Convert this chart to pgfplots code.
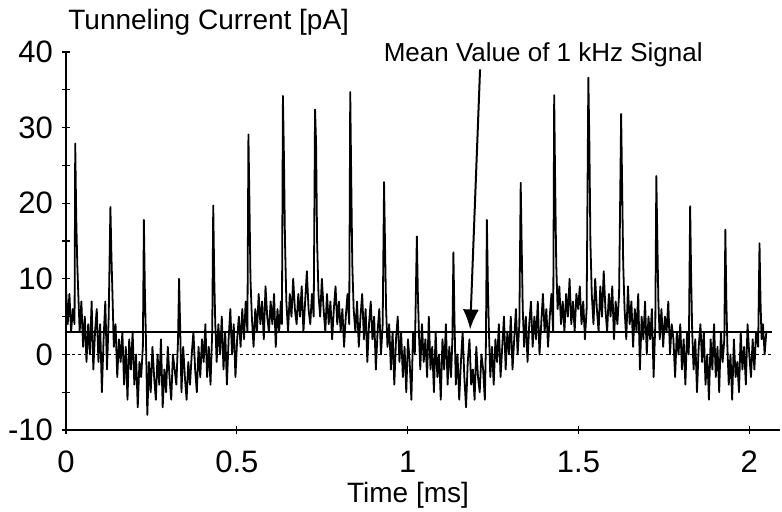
\documentclass[border=0pt]{standalone}
\usepackage{pgfplots}
\pgfplotsset{compat=1.18}
\usetikzlibrary{arrows.meta}
\usepackage{fontspec}
\setmainfont{Liberation Sans}
\begin{document}
\begin{tikzpicture}
\useasboundingbox (-33pt,-40.5pt) rectangle (358pt,215pt);
\begin{axis}[
 at={(0,0)}, anchor=south west,
 scale only axis, width=357pt, height=189pt,
 xmin=0, xmax=2.09, ymin=-10, ymax=40,
 axis lines=left, axis line style={-, line width=0.8pt},
 xtick={0,0.5,1,1.5,2}, xticklabels={0,0.5,1,1.5,2},
 ytick={-10,0,10,20,30,40}, yticklabels={-10,0,10,20,30,40},
 minor ytick={-5,5,15,25,35},
 tick align=center, major tick length=4pt, minor tick length=4pt,
 tick style={black, line width=0.6pt},
 ticklabel style={font=\fontsize{15.5}{18}\selectfont},
 xticklabel style={yshift=-5pt},
 yticklabel style={xshift=-1pt},
 /pgf/number format/assume math mode=true,
 clip=false,
]
\addplot[black, line width=0.9pt, line join=round] coordinates {
(0.000,9)(0.005,4)(0.010,8)(0.015,3)(0.020,6)(0.025,4)(0.027,27.9)(0.030,18)(0.033,12)(0.036,8)
(0.040,3)(0.045,7)(0.050,1)(0.055,5)(0.060,-1)(0.065,4)(0.070,0)(0.075,7)(0.080,-2)(0.085,3)
(0.090,6)(0.095,-1)(0.100,4)(0.105,-5)(0.110,2)(0.115,7)(0.120,-2)(0.125,5)(0.130,19.5)(0.133,13)
(0.136,8)(0.140,1)(0.145,4)(0.150,-3)(0.155,2)(0.160,-1)(0.165,3)(0.170,-4)(0.175,1)(0.180,-6)
(0.185,2)(0.190,-2)(0.195,3)(0.200,-4)(0.205,0)(0.210,-7)(0.215,-1)(0.220,-3)(0.225,1)(0.228,17.8)
(0.231,8)(0.234,2)(0.238,-8)(0.243,-1)(0.248,-5)(0.253,1)(0.258,-3)(0.263,-6)(0.268,0)(0.273,-4)
(0.278,2)(0.283,-7)(0.288,-2)(0.293,-5)(0.298,1)(0.303,-3)(0.308,-6)(0.313,0)(0.318,-2)(0.323,-4)
(0.328,2)(0.331,10)(0.334,4)(0.338,-5)(0.343,1)(0.348,-3)(0.353,-6)(0.358,-1)(0.363,-4)(0.368,0)
(0.373,3)(0.378,-2)(0.383,-5)(0.388,1)(0.393,-3)(0.398,2)(0.403,-1)(0.408,4)(0.413,-3)(0.418,1)
(0.423,-4)(0.428,3)(0.431,19.7)(0.434,10)(0.437,4)(0.441,-1)(0.446,4)(0.451,0)(0.456,5)(0.461,-2)
(0.466,3)(0.471,-4)(0.476,2)(0.481,6)(0.486,0)(0.491,4)(0.496,-3)(0.501,2)(0.506,5)(0.511,1)
(0.516,6)(0.521,2)(0.526,7)(0.531,3)(0.534,29.1)(0.537,20)(0.540,10)(0.544,5)(0.549,1)(0.554,6)
(0.559,3)(0.564,8)(0.569,4)(0.574,7)(0.579,2)(0.584,9)(0.589,5)(0.594,3)(0.599,7)(0.604,4)
(0.609,8)(0.614,1)(0.619,6)(0.624,3)(0.629,7)(0.632,4)(0.635,34.2)(0.638,26)(0.641,15)(0.645,7)
(0.650,3)(0.655,8)(0.660,5)(0.665,10)(0.670,6)(0.675,4)(0.680,8)(0.685,5)(0.690,9)(0.695,3)
(0.700,7)(0.705,11)(0.710,6)(0.715,4)(0.720,8)(0.725,5)(0.729,32.4)(0.732,28)(0.735,15)(0.739,8)
(0.744,5)(0.749,10)(0.754,6)(0.759,3)(0.764,8)(0.769,4)(0.774,7)(0.779,2)(0.784,6)(0.789,9)
(0.794,4)(0.799,7)(0.804,3)(0.809,6)(0.814,1)(0.819,5)(0.824,8)(0.829,4)(0.832,34.7)(0.835,23)
(0.838,12)(0.842,6)(0.847,3)(0.852,7)(0.857,1)(0.862,5)(0.867,8)(0.872,2)(0.877,6)(0.882,-1)
(0.887,4)(0.892,7)(0.897,2)(0.902,5)(0.907,-2)(0.912,3)(0.917,6)(0.922,0)(0.927,4)(0.931,22.8)
(0.934,14)(0.937,6)(0.941,1)(0.946,4)(0.951,-2)(0.956,3)(0.961,-4)(0.966,2)(0.971,5)(0.976,-1)
(0.981,3)(0.986,-3)(0.991,1)(0.996,-5)(1.001,2)(1.006,-1)(1.011,-6)(1.016,3)(1.021,0)(1.027,15.6)
(1.030,8)(1.033,3)(1.037,-2)(1.042,4)(1.047,-1)(1.052,2)(1.057,-3)(1.062,5)(1.067,-2)(1.072,1)
(1.077,-5)(1.082,3)(1.087,-3)(1.092,0)(1.097,-6)(1.102,2)(1.107,-2)(1.112,4)(1.117,-4)(1.122,1)
(1.127,-3)(1.131,2)(1.134,13.5)(1.137,5)(1.141,-4)(1.146,0)(1.151,-6)(1.156,-1)(1.161,3)(1.166,-3)
(1.171,-7)(1.176,-1)(1.181,2)(1.186,-4)(1.191,-2)(1.196,-6)(1.201,1)(1.206,-3)(1.211,-5)(1.216,0)
(1.221,-2)(1.226,-6)(1.229,1)(1.232,17.8)(1.235,9)(1.238,3)(1.242,-3)(1.247,1)(1.252,-4)(1.257,2)
(1.262,-1)(1.267,4)(1.272,-3)(1.277,1)(1.282,5)(1.287,-2)(1.292,3)(1.297,0)(1.302,5)(1.307,-2)
(1.312,2)(1.317,6)(1.322,0)(1.327,4)(1.331,22.7)(1.334,14)(1.337,6)(1.341,1)(1.346,5)(1.351,-1)
(1.356,4)(1.361,7)(1.366,1)(1.371,5)(1.376,2)(1.381,7)(1.386,0)(1.391,4)(1.396,8)(1.401,3)
(1.406,6)(1.411,1)(1.416,5)(1.421,8)(1.426,3)(1.429,34.3)(1.432,22)(1.435,12)(1.439,6)(1.444,9)
(1.449,4)(1.454,7)(1.459,3)(1.464,8)(1.469,5)(1.474,10)(1.479,4)(1.484,7)(1.489,3)(1.494,8)
(1.499,6)(1.504,9)(1.509,4)(1.514,7)(1.519,2)(1.524,6)(1.529,36.6)(1.532,28)(1.535,15)(1.539,8)
(1.544,4)(1.549,10)(1.554,6)(1.559,3)(1.564,9)(1.569,5)(1.574,11)(1.579,6)(1.584,3)(1.589,8)
(1.594,5)(1.599,9)(1.604,2)(1.609,7)(1.614,4)(1.619,8)(1.625,31.8)(1.628,22)(1.631,12)(1.635,6)
(1.640,2)(1.645,9)(1.650,4)(1.655,7)(1.660,1)(1.665,6)(1.670,3)(1.675,8)(1.680,-2)(1.685,5)
(1.690,2)(1.695,7)(1.700,0)(1.705,5)(1.710,2)(1.715,6)(1.720,-3)(1.725,4)(1.728,23.6)(1.731,15)
(1.734,7)(1.738,2)(1.743,6)(1.748,1)(1.753,5)(1.758,3)(1.763,7)(1.768,0)(1.773,4)(1.778,2)
(1.783,-3)(1.788,3)(1.793,0)(1.798,4)(1.803,-2)(1.808,2)(1.813,-4)(1.818,3)(1.823,0)(1.827,19.6)
(1.830,10)(1.833,3)(1.837,-2)(1.842,2)(1.847,-5)(1.852,1)(1.857,4)(1.862,-1)(1.867,3)(1.872,-4)
(1.877,0)(1.882,-6)(1.887,2)(1.892,-2)(1.897,4)(1.902,-3)(1.907,1)(1.912,-5)(1.917,3)(1.922,-1)
(1.927,2)(1.930,16.5)(1.933,7)(1.936,1)(1.940,-4)(1.945,0)(1.950,-6)(1.955,2)(1.960,-3)(1.965,-1)
(1.970,-5)(1.975,3)(1.980,-2)(1.985,1)(1.990,-4)(1.995,4)(2.000,0)(2.005,-3)(2.010,2)(2.015,-2)
(2.020,3)(2.026,1)(2.030,14.7)(2.033,7)(2.036,2)(2.040,4)(2.045,0)(2.050,3)
};
\addplot[black, line width=0.5pt, dash pattern=on 1.5pt off 1.5pt] coordinates {(0,0) (2.065,0)};
\addplot[black, line width=1pt] coordinates {(0,3) (2.067,3)};
\draw[line width=1pt, -{Latex[length=10pt,width=8pt]}] (axis cs:1.212,37.7) -- (axis cs:1.183,3.3);
\node[font=\fontsize{13}{16}\selectfont] at (axis cs:1.397,39.7) {Mean Value of 1 kHz Signal};
\end{axis}
\node[anchor=west, font=\fontsize{14}{16}\selectfont, inner sep=0pt] at (1pt,204pt) {Tunneling Current [pA]};
\node[font=\fontsize{14}{16}\selectfont, inner sep=0pt] at (171pt,-32.5pt) {Time [ms]};
\end{tikzpicture}
\end{document}
